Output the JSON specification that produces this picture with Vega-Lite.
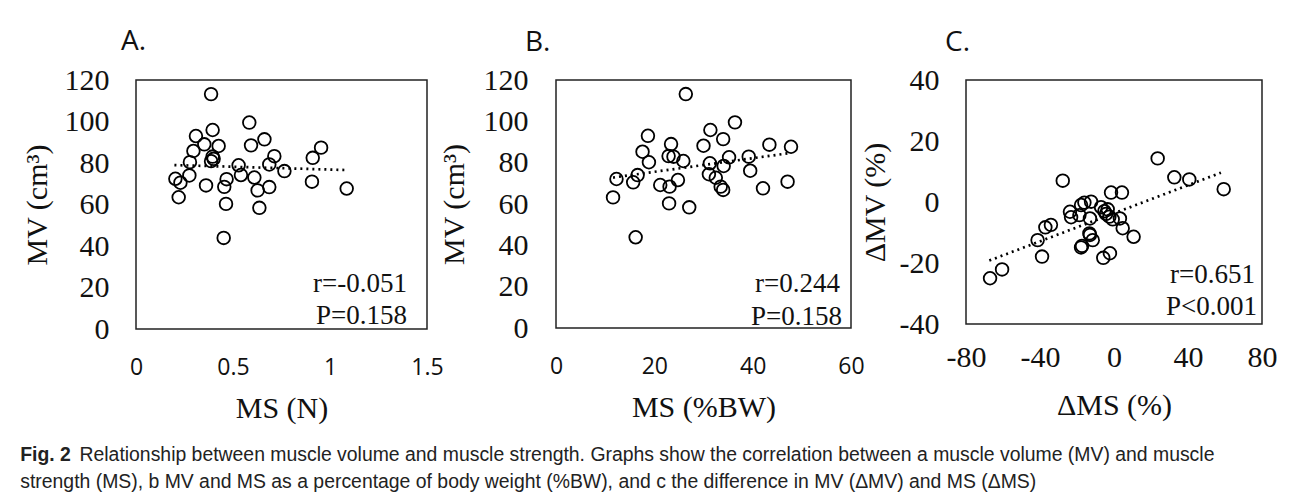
{
  "$schema": "https://vega.github.io/schema/vega-lite/v6.json",
  "background": "white",
  "padding": {"left": 20, "top": 27, "right": 5, "bottom": 5},
  "datasets": {
    "panelA": [
      {"ms": 0.387, "mv": 113.2}, {"ms": 0.395, "mv": 95.9}, {"ms": 0.309, "mv": 93.0}, {"ms": 0.584, "mv": 99.5},
      {"ms": 0.352, "mv": 89.0}, {"ms": 0.426, "mv": 88.2}, {"ms": 0.593, "mv": 88.5}, {"ms": 0.662, "mv": 91.4},
      {"ms": 0.296, "mv": 85.8}, {"ms": 0.395, "mv": 83.1}, {"ms": 0.387, "mv": 80.9}, {"ms": 0.278, "mv": 80.4},
      {"ms": 0.713, "mv": 83.3}, {"ms": 0.687, "mv": 79.3}, {"ms": 0.911, "mv": 82.5}, {"ms": 0.954, "mv": 87.4},
      {"ms": 0.529, "mv": 78.9}, {"ms": 0.765, "mv": 76.1}, {"ms": 0.275, "mv": 74.0}, {"ms": 0.203, "mv": 72.4},
      {"ms": 0.229, "mv": 70.5}, {"ms": 0.220, "mv": 63.5}, {"ms": 0.361, "mv": 69.2}, {"ms": 0.467, "mv": 72.2},
      {"ms": 0.455, "mv": 68.5}, {"ms": 0.541, "mv": 74.2}, {"ms": 0.610, "mv": 73.0}, {"ms": 0.627, "mv": 66.8},
      {"ms": 0.687, "mv": 68.4}, {"ms": 0.464, "mv": 60.3}, {"ms": 0.636, "mv": 58.4}, {"ms": 0.452, "mv": 43.9},
      {"ms": 0.907, "mv": 71.0}, {"ms": 1.086, "mv": 67.7}, {"ms": 0.400, "mv": 82.0}
    ],
    "trendA": [{"ms": 0.198, "mv": 79.0}, {"ms": 1.086, "mv": 76.6}],
    "panelB": [
      {"ms": 26.4, "mv": 113.2}, {"ms": 36.4, "mv": 99.5}, {"ms": 31.4, "mv": 95.8}, {"ms": 34.0, "mv": 91.4},
      {"ms": 18.7, "mv": 93.0}, {"ms": 30.0, "mv": 88.2}, {"ms": 23.4, "mv": 89.0}, {"ms": 17.6, "mv": 85.3},
      {"ms": 43.4, "mv": 88.7}, {"ms": 47.8, "mv": 87.7}, {"ms": 22.9, "mv": 83.2}, {"ms": 23.9, "mv": 82.9},
      {"ms": 25.9, "mv": 80.8}, {"ms": 18.9, "mv": 80.2}, {"ms": 31.3, "mv": 79.7}, {"ms": 35.2, "mv": 82.6},
      {"ms": 34.1, "mv": 78.4}, {"ms": 39.2, "mv": 82.9}, {"ms": 39.5, "mv": 76.1}, {"ms": 12.3, "mv": 72.1},
      {"ms": 15.7, "mv": 70.5}, {"ms": 16.6, "mv": 74.0}, {"ms": 11.6, "mv": 63.2}, {"ms": 21.2, "mv": 69.2},
      {"ms": 23.1, "mv": 68.4}, {"ms": 24.8, "mv": 71.6}, {"ms": 31.1, "mv": 74.4}, {"ms": 32.5, "mv": 72.7},
      {"ms": 33.5, "mv": 68.4}, {"ms": 34.0, "mv": 66.8}, {"ms": 42.1, "mv": 67.6}, {"ms": 47.1, "mv": 70.8},
      {"ms": 23.0, "mv": 60.3}, {"ms": 27.1, "mv": 58.4}, {"ms": 16.2, "mv": 43.9}
    ],
    "trendB": [{"ms": 11.6, "mv": 72.8}, {"ms": 47.1, "mv": 84.5}],
    "panelC": [
      {"dms": 23.6, "dmv": 14.3}, {"dms": 32.6, "dmv": 8.1}, {"dms": 40.7, "dmv": 7.4}, {"dms": 59.3, "dmv": 4.2},
      {"dms": -27.7, "dmv": 7.0}, {"dms": -1.6, "dmv": 3.1}, {"dms": 4.3, "dmv": 3.1}, {"dms": -67.0, "dmv": -25.0},
      {"dms": -60.5, "dmv": -22.1}, {"dms": -38.9, "dmv": -17.9}, {"dms": -41.3, "dmv": -12.5}, {"dms": -37.1, "dmv": -8.3},
      {"dms": -34.1, "dmv": -7.5}, {"dms": -17.8, "dmv": -14.9}, {"dms": -17.3, "dmv": -14.4}, {"dms": -5.8, "dmv": -18.3},
      {"dms": -2.2, "dmv": -16.8}, {"dms": 10.6, "dmv": -11.4}, {"dms": 4.7, "dmv": -8.6}, {"dms": 3.2, "dmv": -5.4},
      {"dms": -13.0, "dmv": -10.8}, {"dms": -11.5, "dmv": -12.5}, {"dms": -13.3, "dmv": -10.3}, {"dms": -23.8, "dmv": -3.2},
      {"dms": -23.2, "dmv": -5.0}, {"dms": -17.8, "dmv": -1.0}, {"dms": -12.4, "dmv": 0.1}, {"dms": -16.0, "dmv": -0.2},
      {"dms": -18.7, "dmv": -4.3}, {"dms": -13.0, "dmv": -5.4}, {"dms": -7.0, "dmv": -1.7}, {"dms": -5.2, "dmv": -3.0},
      {"dms": -4.3, "dmv": -3.9}, {"dms": -2.5, "dmv": -4.8}, {"dms": -3.4, "dmv": -2.4}, {"dms": -0.7, "dmv": -5.7}
    ],
    "trendC": [{"dms": -67.4, "dmv": -19.2}, {"dms": 57.8, "dmv": 9.6}]
  },
  "config": {
    "view": {"stroke": "#222", "strokeWidth": 1.5},
    "axis": {
      "grid": false, "ticks": false, "domain": false, "labelFlush": false,
      "labelFont": "Liberation Serif", "labelFontSize": 30, "labelColor": "#111",
      "titleFont": "Liberation Serif", "titleFontSize": 30, "titleFontWeight": "normal", "titleColor": "#111",
      "labelExpr": "replace(datum.label, '\u2212', '-')"
    },
    "point": {"opacity": 1}
  },
  "title": {
    "text": "Fig. 2",
    "subtitle": [
      "\u200b\u00a0\u00a0\u00a0\u00a0\u00a0\u00a0\u00a0\u00a0\u00a0\u00a0\u00a0Relationship between muscle volume and muscle strength. Graphs show the correlation between a muscle volume (MV) and muscle",
      "strength (MS), b MV and MS as a percentage of body weight (%BW), and c the difference in MV (ΔMV) and MS (ΔMS)"
    ],
    "orient": "bottom", "anchor": "start", "frame": "bounds",
    "font": "Liberation Sans", "fontSize": 19.4, "fontWeight": "bold", "color": "#222",
    "subtitleFont": "Liberation Sans", "subtitleFontSize": 19.4, "subtitleFontWeight": "normal", "subtitleColor": "#222",
    "subtitleLineHeight": 27, "subtitlePadding": -19, "offset": 22, "dx": -1
  },
  "spacing": -6,
  "hconcat": [
    {
      "width": 291, "height": 249,
      "title": {"text": "A.", "frame": "group", "font": "Open Sans", "fontSize": 28, "fontWeight": "normal", "anchor": "start", "baseline": "alphabetic", "offset": -13, "dx": -15, "color": "#111"},
      "layer": [
        {
          "data": {"name": "panelA"},
          "mark": {"type": "point", "shape": "circle", "filled": false, "size": 160, "strokeWidth": 1.8, "color": "#000"},
          "encoding": {
            "x": {"field": "ms", "type": "quantitative", "scale": {"domain": [0, 1.5], "nice": false, "zero": false},
                  "axis": {"values": [0, 0.5, 1, 1.5], "format": "~g", "labelFont": "Open Sans", "labelFontSize": 23, "labelPadding": 27, "title": "MS (N)", "titlePadding": 14}},
            "y": {"field": "mv", "type": "quantitative", "scale": {"domain": [0, 120], "nice": false},
                  "axis": {"values": [0, 20, 40, 60, 80, 100, 120], "labelPadding": 27, "title": "MV (cm³)", "titlePadding": 12}}
          }
        },
        {
          "data": {"name": "trendA"},
          "mark": {"type": "line", "strokeDash": [2, 4], "strokeWidth": 2.7, "color": "#000"},
          "encoding": {"x": {"field": "ms", "type": "quantitative"}, "y": {"field": "mv", "type": "quantitative"}}
        },
        {
          "data": {"values": [{"t": "r=-0.051"}]},
          "mark": {"type": "text", "align": "right", "baseline": "alphabetic", "font": "Liberation Serif", "fontSize": 27, "dx": -20, "dy": -37, "color": "#111"},
          "encoding": {"text": {"field": "t"}, "x": {"value": "width"}, "y": {"value": "height"}}
        },
        {
          "data": {"values": [{"t": "P=0.158"}]},
          "mark": {"type": "text", "align": "right", "baseline": "alphabetic", "font": "Liberation Serif", "fontSize": 27, "dx": -20, "dy": -5, "color": "#111"},
          "encoding": {"text": {"field": "t"}, "x": {"value": "width"}, "y": {"value": "height"}}
        }
      ]
    },
    {
      "width": 295, "height": 248,
      "title": {"text": "B.", "frame": "group", "font": "Open Sans", "fontSize": 28, "fontWeight": "normal", "anchor": "start", "baseline": "alphabetic", "offset": -14, "dx": -31, "color": "#111"},
      "layer": [
        {
          "data": {"name": "panelB"},
          "mark": {"type": "point", "shape": "circle", "filled": false, "size": 160, "strokeWidth": 1.8, "color": "#000"},
          "encoding": {
            "x": {"field": "ms", "type": "quantitative", "scale": {"domain": [0, 60], "nice": false, "zero": false},
                  "axis": {"values": [0, 20, 40, 60], "labelFont": "Open Sans", "labelFontSize": 23, "labelPadding": 27, "title": "MS (%BW)", "titlePadding": 14}},
            "y": {"field": "mv", "type": "quantitative", "scale": {"domain": [0, 120], "nice": false},
                  "axis": {"values": [0, 20, 40, 60, 80, 100, 120], "labelPadding": 28, "title": "MV (cm³)", "titlePadding": 14}}
          }
        },
        {
          "data": {"name": "trendB"},
          "mark": {"type": "line", "strokeDash": [2, 4], "strokeWidth": 2.7, "color": "#000"},
          "encoding": {"x": {"field": "ms", "type": "quantitative"}, "y": {"field": "mv", "type": "quantitative"}}
        },
        {
          "data": {"values": [{"t": "r=0.244"}]},
          "mark": {"type": "text", "align": "right", "baseline": "alphabetic", "font": "Liberation Serif", "fontSize": 27, "dx": -11, "dy": -36, "color": "#111"},
          "encoding": {"text": {"field": "t"}, "x": {"value": "width"}, "y": {"value": "height"}}
        },
        {
          "data": {"values": [{"t": "P=0.158"}]},
          "mark": {"type": "text", "align": "right", "baseline": "alphabetic", "font": "Liberation Serif", "fontSize": 27, "dx": -9, "dy": -3, "color": "#111"},
          "encoding": {"text": {"field": "t"}, "x": {"value": "width"}, "y": {"value": "height"}}
        }
      ]
    },
    {
      "width": 296, "height": 244,
      "title": {"text": "C.", "frame": "group", "font": "Open Sans", "fontSize": 28, "fontWeight": "normal", "anchor": "start", "baseline": "alphabetic", "offset": -14, "dx": -21, "color": "#111"},
      "layer": [
        {
          "data": {"name": "panelC"},
          "mark": {"type": "point", "shape": "circle", "filled": false, "size": 160, "strokeWidth": 1.8, "color": "#000"},
          "encoding": {
            "x": {"field": "dms", "type": "quantitative", "scale": {"domain": [-80, 80], "nice": false, "zero": false},
                  "axis": {"values": [-80, -40, 0, 40, 80], "labelPadding": 18, "title": "ΔMS (%)", "titlePadding": 18}},
            "y": {"field": "dmv", "type": "quantitative", "scale": {"domain": [-40, 40], "nice": false},
                  "axis": {"values": [-40, -20, 0, 20, 40], "labelPadding": 27, "title": "ΔMV (%)", "titlePadding": 9}}
          }
        },
        {
          "data": {"name": "trendC"},
          "mark": {"type": "line", "strokeDash": [2, 4], "strokeWidth": 2.7, "color": "#000"},
          "encoding": {"x": {"field": "dms", "type": "quantitative"}, "y": {"field": "dmv", "type": "quantitative"}}
        },
        {
          "data": {"values": [{"t": "r=0.651"}]},
          "mark": {"type": "text", "align": "right", "baseline": "alphabetic", "font": "Liberation Serif", "fontSize": 27, "dx": -7, "dy": -41, "color": "#111"},
          "encoding": {"text": {"field": "t"}, "x": {"value": "width"}, "y": {"value": "height"}}
        },
        {
          "data": {"values": [{"t": "P<0.001"}]},
          "mark": {"type": "text", "align": "right", "baseline": "alphabetic", "font": "Liberation Serif", "fontSize": 27, "dx": -5, "dy": -9, "color": "#111"},
          "encoding": {"text": {"field": "t"}, "x": {"value": "width"}, "y": {"value": "height"}}
        }
      ]
    }
  ]
}
